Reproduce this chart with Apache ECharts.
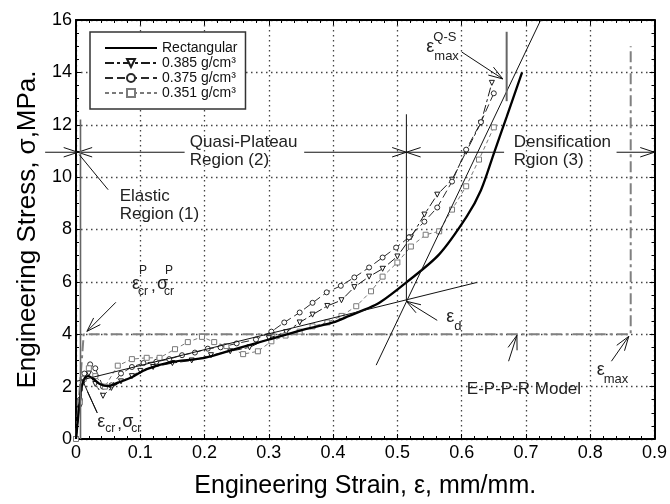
<!DOCTYPE html>
<html>
<head>
<meta charset="utf-8">
<script src="https://cdn.jsdelivr.net/npm/echarts@6/dist/echarts.min.js"></script>
<style>
html, body { margin: 0; background: #fff; }
#chart { width: 670px; height: 504px; }
</style>
</head>
<body>
<div id="chart"></div>
<script>
// strain (mm/mm) / stress (MPa)
const rectStrain = [0, 0.004, 0.008, 0.013, 0.019, 0.027, 0.037, 0.05, 0.065, 0.087, 0.11, 0.146, 0.2, 0.25, 0.3, 0.35, 0.4, 0.425, 0.45, 0.472, 0.515, 0.565, 0.608, 0.63, 0.65, 0.67, 0.694];
const rectStress = [0, 1.0, 1.9, 2.3, 2.4, 2.3, 2.1, 2.02, 2.15, 2.36, 2.67, 2.93, 3.1, 3.45, 3.8, 4.15, 4.45, 4.7, 4.95, 5.2, 6.0, 7.05, 8.5, 9.5, 10.9, 12.3, 14.0];

const d385Strain = [0, 0.005, 0.012, 0.02, 0.03, 0.042, 0.055, 0.07, 0.087, 0.1, 0.12, 0.15, 0.18, 0.21, 0.24, 0.27, 0.3, 0.327, 0.348, 0.368, 0.391, 0.413, 0.433, 0.456, 0.477, 0.5, 0.521, 0.542, 0.562, 0.585, 0.607, 0.63, 0.647];
const d385Stress = [0, 1.2, 2.2, 2.5, 2.1, 1.65, 1.95, 2.2, 2.4, 2.6, 2.75, 2.9, 3.0, 3.2, 3.35, 3.5, 3.85, 4.08, 4.45, 4.75, 5.08, 5.3, 5.8, 6.2, 6.5, 6.97, 7.7, 8.57, 9.33, 9.9, 10.97, 12.07, 13.6];

const d375Strain = [0, 0.006, 0.013, 0.022, 0.03, 0.042, 0.055, 0.07, 0.087, 0.105, 0.125, 0.145, 0.165, 0.185, 0.205, 0.225, 0.25, 0.28, 0.304, 0.324, 0.348, 0.368, 0.39, 0.412, 0.433, 0.456, 0.477, 0.498, 0.518, 0.542, 0.562, 0.585, 0.607, 0.63, 0.65];
const d375Stress = [0, 1.5, 2.5, 2.85, 2.7, 2.0, 2.05, 2.5, 2.75, 2.9, 2.95, 3.05, 3.2, 3.3, 3.45, 3.5, 3.65, 3.8, 4.1, 4.45, 4.83, 5.2, 5.6, 5.85, 6.17, 6.55, 6.93, 7.31, 7.7, 8.3, 8.84, 9.83, 11.05, 12.1, 13.2];

const d351Strain = [0, 0.006, 0.012, 0.02, 0.03, 0.045, 0.065, 0.087, 0.11, 0.13, 0.154, 0.174, 0.196, 0.215, 0.234, 0.26, 0.283, 0.304, 0.326, 0.348, 0.368, 0.391, 0.413, 0.436, 0.459, 0.477, 0.5, 0.521, 0.544, 0.565, 0.585, 0.607, 0.627, 0.65];
const d351Stress = [0, 1.4, 2.3, 2.7, 2.4, 2.0, 2.8, 3.05, 3.1, 3.1, 3.43, 3.7, 3.9, 3.7, 3.55, 3.24, 3.35, 3.73, 3.95, 4.1, 4.3, 4.45, 4.7, 5.07, 5.64, 6.2, 6.74, 7.35, 7.8, 7.93, 8.76, 9.65, 10.67, 11.9];

// E-P-P-R model
const epprStrain = [0, 0.012, 0.863, 0.863];
const epprStress = [0, 4, 4, 15];

const seriesNames = ['Rectangular', '0.385 g/cm³', '0.375 g/cm³', '0.351 g/cm³'];

const font = "'Liberation Sans', Arial, sans-serif";
const zip = (xs, ys) => xs.map((x, i) => [x, ys[i]]);

const xFmt = v => (v === 0 ? '0' : v.toFixed(1));

const baseX = {
    type: 'value', min: 0, max: 0.9, interval: 0.1,
    axisLine: { onZero: false, lineStyle: { color: '#000', width: 2 } },
    axisTick: { inside: true, length: 5, lineStyle: { color: '#000' } },
    minorTick: { show: true, splitNumber: 5, length: 3, lineStyle: { color: '#000' } },
};
const baseY = {
    type: 'value', min: 0, max: 16, interval: 2,
    axisLine: { onZero: false, lineStyle: { color: '#000', width: 2 } },
    axisTick: { inside: true, length: 5, lineStyle: { color: '#000' } },
    minorTick: { show: true, splitNumber: 4, length: 3, lineStyle: { color: '#000' } },
};
const dotted = { show: true, lineStyle: { color: '#444', width: 1.3, type: [1.5, 3.5] } };

const option = {
    animation: false,
    backgroundColor: '#fff',
    grid: { left: 76, right: 14, top: 20, bottom: 64 },
    legend: {
        data: [{ name: seriesNames[0], itemStyle: { opacity: 0 } }, seriesNames[1], seriesNames[2], seriesNames[3]],
        orient: 'vertical',
        left: 90, top: 32,
        padding: [9, 8, 9, 14],
        itemWidth: 52, itemHeight: 10, itemGap: 1,
        borderColor: '#333', borderWidth: 1.5,
        backgroundColor: '#fff',
        selectedMode: false,
        textStyle: { fontFamily: font, fontSize: 14, color: '#111' }
    },
    xAxis: [
        Object.assign({}, baseX, {
            position: 'bottom',
            name: 'Engineering Strain, ε, mm/mm.',
            nameLocation: 'middle', nameGap: 35,
            nameTextStyle: { fontFamily: font, fontSize: 25, color: '#000' },
            axisLabel: { fontFamily: font, fontSize: 18, color: '#000', margin: 5, formatter: xFmt },
            splitLine: dotted
        }),
        Object.assign({}, baseX, { position: 'top', axisLabel: { show: false }, splitLine: { show: false } })
    ],
    yAxis: [
        Object.assign({}, baseY, {
            position: 'left',
            name: 'Engineering Stress, σ,MPa.',
            nameLocation: 'middle', nameGap: 34,
            nameTextStyle: { fontFamily: font, fontSize: 26, color: '#000' },
            axisLabel: { fontFamily: font, fontSize: 18, color: '#000', margin: 4 },
            splitLine: dotted
        }),
        Object.assign({}, baseY, { position: 'right', axisLabel: { show: false }, splitLine: { show: false } })
    ],
    series: [
        {
            name: seriesNames[0], type: 'line', data: zip(rectStrain, rectStress),
            showSymbol: false, symbol: 'none', smooth: 0.3,
            lineStyle: { color: '#000', width: 2.3 }, itemStyle: { color: '#000' }, z: 5
        },
        {
            name: seriesNames[1], type: 'line', data: zip(d385Strain, d385Stress),
            symbol: 'triangle', symbolRotate: 180, symbolSize: 5,
            lineStyle: { color: '#1a1a1a', width: 1, type: [9, 3, 3, 3] },
            itemStyle: { color: '#fff', borderColor: '#1a1a1a', borderWidth: 1 }, z: 4
        },
        {
            name: seriesNames[2], type: 'line', data: zip(d375Strain, d375Stress),
            symbol: 'circle', symbolSize: 5,
            lineStyle: { color: '#2a2a2a', width: 1, type: [8, 4] },
            itemStyle: { color: '#fff', borderColor: '#2a2a2a', borderWidth: 1 }, z: 4
        },
        {
            name: seriesNames[3], type: 'line', data: zip(d351Strain, d351Stress),
            symbol: 'rect', symbolSize: 5,
            lineStyle: { color: '#7a7a7a', width: 1, type: [4, 3] },
            itemStyle: { color: '#fff', borderColor: '#7a7a7a', borderWidth: 1 }, z: 4
        },
        {
            name: 'E-P-P-R', type: 'line', data: zip(epprStrain, epprStress),
            symbol: 'none', lineStyle: { color: '#808080', width: 2, type: [11, 4, 3, 4] }, z: 3
        }
    ]
};

const chart = echarts.init(document.getElementById('chart'));
chart.setOption(option);

// annotations, positioned in data coordinates
const px = p => chart.convertToPixel({ xAxisIndex: 0, yAxisIndex: 0 }, p);

const arrows = [
    [[-0.048, 10.95], [0.003, 10.95]],
    [[0.169, 10.95], [0.003, 10.95]],
    [[0.355, 10.95], [0.514, 10.95]],
    [[0.666, 10.95], [0.514, 10.95]],
    [[0.841, 10.95], [0.9, 10.95]],
    [[0.062, 5.22], [0.017, 4.11]],
    [[0.562, 4.53], [0.514, 5.26]],
    [[0.673, 2.97], [0.686, 3.96]],
    [[0.833, 2.97], [0.86, 3.92]],
    [[0.6, 14.78], [0.664, 13.75]]
];
const plain = [
    [[0, 2.2], [0.624, 5.98], '#111', 1],
    [[0.467, 2.82], [0.723, 16], '#111', 1],
    [[0.514, 5.25], [0.514, 12.4], '#111', 1],
    [[0.67, 12.9], [0.67, 15.55], '#666', 2],
    [[0.007, 0], [0.007, 12.2], '#666', 1.6],
    [[0.05, 9.52], [0.005, 10.86], '#111', 1],
    [[0.033, 1.0], [0.01, 2.25], '#111', 1],
    [[0.033, 1.0], [0.018, 1.8], '#111', 1]
];
// [anchor, pieces: [text, dx, dy, size]]
const labels = [
    [[0.177, 10.97], [['Quasi-Plateau\nRegion (2)', 0, 0, 17]]],
    [[0.681, 10.97], [['Densification\nRgion (3)', 0, 0, 17]]],
    [[0.068, 8.91], [['Elastic\nRegion (1)', 0, 0, 17]]],
    [[0.608, 1.9], [['E-P-P-R Model', 0, 0, 17]]],
    [[0.545, 14.97], [['ε', 0, 0, 18], ['Q-S', 7, -10, 13], ['max', 8, 9, 13]]],
    [[0.576, 4.65], [['ε', 0, 0, 18], ['d', 8, 9, 13]]],
    [[0.81, 2.63], [['ε', 0, 0, 18], ['max', 7, 9, 13]]],
    [[0.087, 5.9], [['ε', 0, 0, 18], ['P', 7, -14, 12], ['cr', 6, 7, 12], [',', 19, 2, 17], ['σ', 25, 0, 18], ['P', 33, -14, 12], ['cr', 32, 7, 12]]],
    [[0.033, 0.65], [['ε', 0, 0, 18], ['cr', 8, 7, 12], [',', 20, 2, 17], ['σ', 25, 0, 18], ['cr', 34, 7, 12]]]
];

const seg = (a, b, c, w) => ({
    type: 'line', z: 100, silent: true,
    shape: { x1: a[0], y1: a[1], x2: b[0], y2: b[1] },
    style: { stroke: c, lineWidth: w }
});

const els = [];
arrows.forEach(([f, t]) => {
    const a = px(f), b = px(t);
    els.push(seg(a, b, '#111', 1));
    const ang = Math.atan2(a[1] - b[1], a[0] - b[0]);
    [-0.32, 0.32].forEach(d => {
        els.push(seg(b, [b[0] + 15 * Math.cos(ang + d), b[1] + 15 * Math.sin(ang + d)], '#111', 1));
    });
});
plain.forEach(([f, t, c, w]) => els.push(seg(px(f), px(t), c, w)));
labels.forEach(([anchor, pieces]) => {
    const p = px(anchor);
    pieces.forEach(([txt, dx, dy, size]) => {
        els.push({
            type: 'text', z: 101, silent: true,
            x: p[0] + dx, y: p[1] + dy,
            style: {
                text: txt, fill: '#222', font: size + 'px ' + font,
                lineHeight: 18, textAlign: 'left', textVerticalAlign: 'middle',
                align: 'left', verticalAlign: 'middle'
            }
        });
    });
});
chart.setOption({ graphic: { elements: els } });
</script>
</body>
</html>
